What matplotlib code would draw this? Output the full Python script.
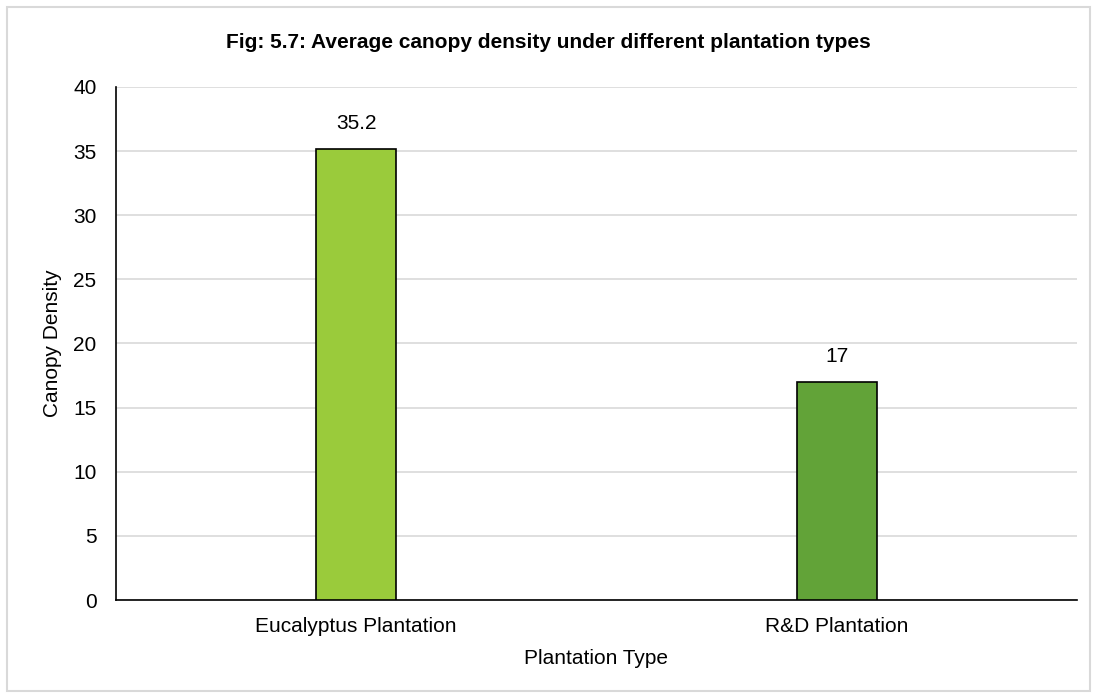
import numpy as np
import matplotlib.pyplot as plt
from matplotlib.patches import Rectangle

plantations = ['Eucalyptus Plantation', 'R&D Plantation']
canopy = [35.2, 17]
bar_colors = ['#9ACB3B', '#62A338']
yticks = [0, 5, 10, 15, 20, 25, 30, 35, 40]

plt.rcParams['font.family'] = ['Liberation Sans', 'DejaVu Sans']
fs = 15

fig = plt.figure(figsize=(10.97, 6.98), dpi=100)
ax = fig.add_axes([0.1057, 0.1404, 0.8761, 0.735])

# marco exterior gris claro
fig.patches.append(Rectangle((7 / 1097, 7 / 698), 1083 / 1097, 684 / 698,
                             transform=fig.transFigure, fill=False,
                             edgecolor='#D9D9D9', linewidth=1.5))

x = np.arange(len(plantations))
ax.bar(x, canopy, width=0.166, color=bar_colors, edgecolor='black',
       linewidth=1.2, zorder=3)
for xi, v in zip(x, canopy):
    ax.annotate(f'{v:g}', (xi, v), xytext=(0, 18), textcoords='offset points',
                ha='center', va='center', fontsize=fs)

ax.set_xlim(-0.5, 1.5)
ax.set_ylim(0, 40)
ax.set_yticks(yticks)
ax.set_xticks(x)
ax.set_xticklabels(plantations)
ax.tick_params(axis='both', length=0, labelsize=fs)
ax.tick_params(axis='y', pad=14)
ax.tick_params(axis='x', pad=12)
ax.grid(axis='y', color='#D9D9D9', linewidth=1.2, zorder=0)
for s in ['top', 'right']:
    ax.spines[s].set_visible(False)
ax.spines['left'].set_linewidth(1.2)
ax.spines['bottom'].set_linewidth(1.2)

ax.set_ylabel('Canopy Density', fontsize=fs)
ax.set_xlabel('Plantation Type', fontsize=fs)
ax.yaxis.set_label_coords(-0.056, 0.5)
ax.xaxis.set_label_coords(0.5, -0.096)
fig.text(0.5, 1 - 42 / 698, 'Fig: 5.7: Average canopy density under different plantation types',
         ha='center', va='center', fontsize=fs, fontweight='bold')

fig.savefig('out.png', dpi=100)
